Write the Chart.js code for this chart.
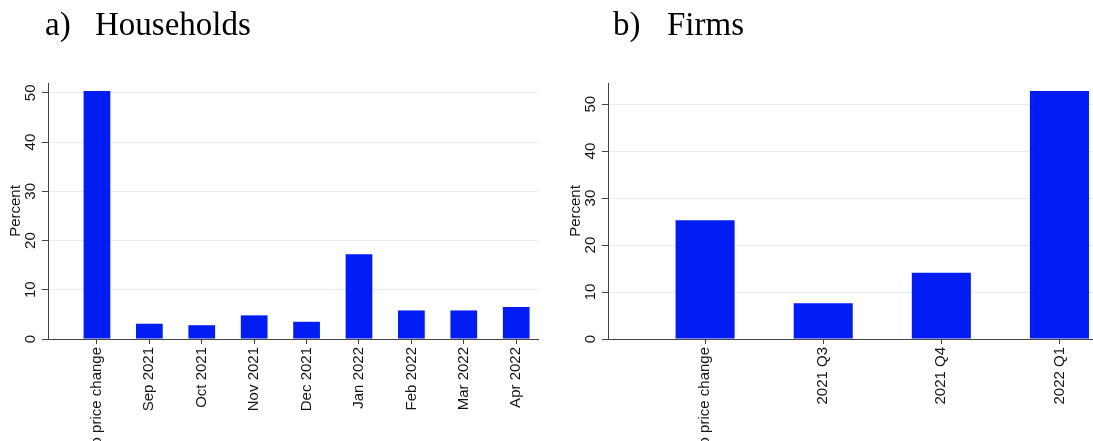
<!DOCTYPE html>
<html>
<head>
<meta charset="utf-8">
<script src="https://cdn.jsdelivr.net/npm/chart.js@4"></script>
<style>
  html, body { margin: 0; padding: 0; background: #fff; }
  body { width: 1093px; height: 441px; overflow: hidden; position: relative; }
  .panel { position: absolute; top: 0; }
  #hhBox { left: 0; }
  #firmBox { left: 560px; }
</style>
</head>
<body>
<div class="panel" id="hhBox"><canvas id="hhChart" width="550" height="460"></canvas></div>
<div class="panel" id="firmBox"><canvas id="firmChart" width="533" height="460"></canvas></div>
<script>
// Timing of expected price changes
const hhCategories = ['No price change', 'Sep 2021', 'Oct 2021', 'Nov 2021', 'Dec 2021',
                      'Jan 2022', 'Feb 2022', 'Mar 2022', 'Apr 2022'];
const hhPercent = [50.4, 3.1, 2.8, 4.8, 3.5, 17.2, 5.8, 5.8, 6.5];

const firmCategories = ['No price change', '2021 Q3', '2021 Q4', '2022 Q1'];
const firmPercent = [25.3, 7.6, 14.1, 52.8];

const yTicks = [0, 10, 20, 30, 40, 50];

const BAR_BLUE = 'rgb(2, 28, 244)';
const AXIS_COLOR = '#444';
const GRID_COLOR = '#e6eced';
const TEXT_COLOR = '#151515';
const SANS = '"Liberation Sans", Arial, sans-serif';
const SERIF = '"Liberation Serif", "Times New Roman", serif';

// Draws the panel heading, the rotated y tick labels and the y title
const panelText = {
    id: 'panelText',
    afterDraw(chart, args, opts) {
        const ctx = chart.ctx;
        const y = chart.scales.y;
        const left = chart.chartArea.left;
        ctx.save();
        ctx.fillStyle = '#000';
        ctx.font = '33px ' + SERIF;
        ctx.textBaseline = 'alphabetic';
        ctx.textAlign = 'left';
        ctx.fillText(opts.tag, opts.tagX, 35);
        ctx.fillText(opts.title, opts.titleX, 35);

        ctx.fillStyle = TEXT_COLOR;
        ctx.font = '15px ' + SANS;
        ctx.textAlign = 'center';
        ctx.textBaseline = 'middle';
        y.ticks.forEach(t => {
            ctx.save();
            ctx.translate(left - 17, y.getPixelForValue(t.value));
            ctx.rotate(-Math.PI / 2);
            ctx.fillText(String(t.value), 0, 0);
            ctx.restore();
        });
        ctx.translate(left - 32, (chart.chartArea.top + chart.chartArea.bottom) / 2);
        ctx.rotate(-Math.PI / 2);
        ctx.fillText('Percent', 0, 0);
        ctx.restore();
    }
};

function makePanel(canvasId, cats, values, opts) {
    const ctx = document.getElementById(canvasId).getContext('2d');
    return new Chart(ctx, {
        type: 'bar',
        data: {
            datasets: [{
                data: values.map((v, i) => ({ x: i, y: v })),
                backgroundColor: BAR_BLUE,
                borderWidth: 0,
                barPercentage: 1,
                categoryPercentage: opts.barShare
            }]
        },
        options: {
            responsive: false,
            animation: false,
            layout: { padding: { top: 83, right: opts.padRight, left: 0, bottom: 0 } },
            plugins: {
                legend: { display: false },
                tooltip: { enabled: false },
                panelText: { tag: opts.tag, title: opts.title, tagX: opts.tagX, titleX: opts.titleX }
            },
            scales: {
                x: {
                    type: 'linear',
                    offset: false,
                    min: opts.xMin,
                    max: opts.xMax,
                    afterBuildTicks: s => { s.ticks = cats.map((c, i) => ({ value: i })); },
                    afterFit: s => { s.height = 460 - 339; },
                    grid: { display: true, drawOnChartArea: false, drawTicks: true, tickLength: 5,
                            tickColor: AXIS_COLOR, offset: false },
                    border: { display: true, color: AXIS_COLOR, width: 1 },
                    ticks: {
                        autoSkip: false,
                        minRotation: 90,
                        maxRotation: 90,
                        padding: 3,
                        color: TEXT_COLOR,
                        font: { family: SANS, size: 15 },
                        callback: v => cats[v]
                    }
                },
                y: {
                    min: 0,
                    max: opts.yMax,
                    afterBuildTicks: s => { s.ticks = yTicks.map(v => ({ value: v })); },
                    afterFit: s => { s.width = 48; },
                    grid: { color: GRID_COLOR, drawTicks: true, tickLength: 6, tickColor: AXIS_COLOR },
                    border: { display: true, color: AXIS_COLOR, width: 1 },
                    ticks: { display: false }
                }
            }
        },
        plugins: [panelText]
    });
}

makePanel('hhChart', hhCategories, hhPercent, {
    tag: 'a)', title: 'Households', tagX: 45, titleX: 95,
    xMin: -0.934, xMax: 8.416, yMax: 52, padRight: 12, barShare: 0.51
});

makePanel('firmChart', firmCategories, firmPercent, {
    tag: 'b)', title: 'Firms', tagX: 53, titleX: 107,
    xMin: -0.822, xMax: 3.284, yMax: 54.5, padRight: 0, barShare: 0.5
});
</script>
</body>
</html>
